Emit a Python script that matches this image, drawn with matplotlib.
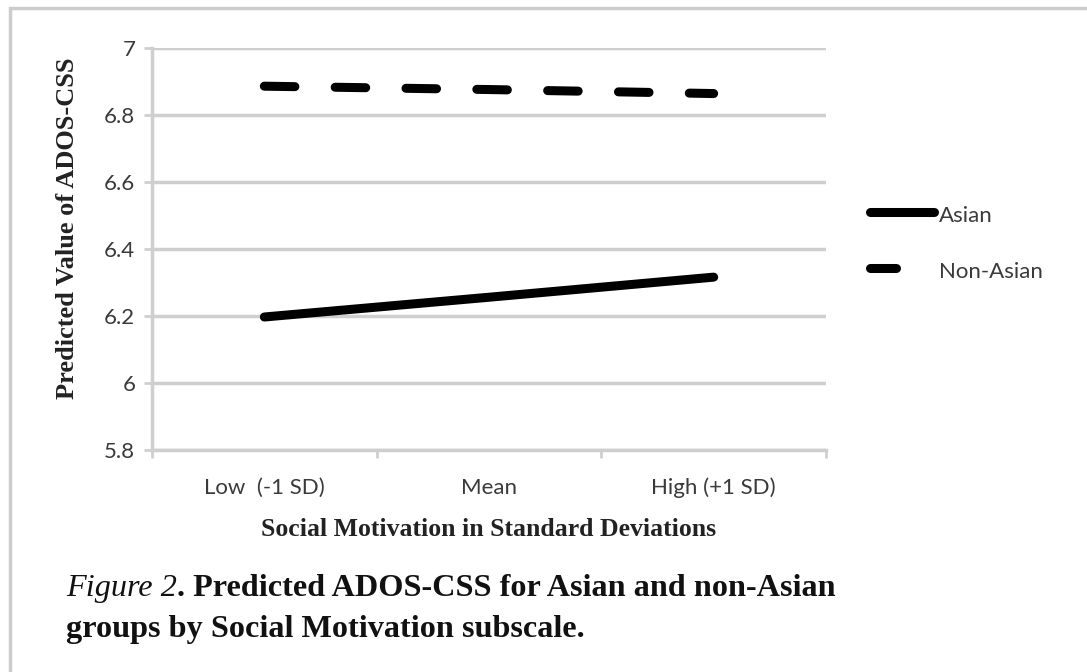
import matplotlib
matplotlib.use("Agg")
import matplotlib.pyplot as plt
from matplotlib.lines import Line2D
from matplotlib.patches import Rectangle

# data
categories = ["Low  (-1 SD)", "Mean", "High (+1 SD)"]
asian = [6.197, 6.256, 6.316]
non_asian = [6.886, 6.876, 6.864]
y_ticks = [5.8, 6.0, 6.2, 6.4, 6.6, 6.8, 7.0]
y_tick_labels = ["5.8", "6", "6.2", "6.4", "6.6", "6.8", "7"]
series_names = ["Asian", "Non-Asian"]

plt.rcParams['lines.scale_dashes'] = False
SANS = "Lato"
SERIF = "Liberation Serif"
GRID = "#cfcfcf"
TXT = "#3a3a3a"

fig = plt.figure(figsize=(10.87, 6.72), dpi=100)
# light gray frame around the figure area (left + top visible)
fig.patches.append(Rectangle((10 / 1087, -0.05), 1.2, 1 - 8 / 672 + 0.05,
                             transform=fig.transFigure, fill=False,
                             edgecolor="#cccccc", lw=2.5))

ax = fig.add_axes([152 / 1087, 1 - 450 / 672, (826 - 152) / 1087, (450 - 48) / 672])

x = range(len(categories))
ax.plot(x, asian, color="black", lw=6.5, solid_capstyle="round")
ax.plot(x, non_asian, color="black", lw=6.5, dash_capstyle="round",
        dashes=(22, 29))

ax.set_xlim(-0.5, 2.5)
ax.set_ylim(5.8, 7.0)
ax.set_yticks(y_ticks)
ax.set_yticklabels(y_tick_labels)
ax.set_xticks([-0.5, 0.5, 1.5, 2.5])
ax.set_xticklabels([])
ax.set_xticks(list(x), minor=True)
ax.set_xticklabels(categories, minor=True)
ax.tick_params(axis="x", which="minor", length=0, pad=20)
ax.tick_params(axis="x", which="major", length=6, width=2, color=GRID)
ax.tick_params(axis="y", length=6, width=2, color=GRID, pad=6)
for lab in ax.get_xticklabels(minor=True) + ax.get_yticklabels():
    lab.set_fontfamily(SANS)
    lab.set_fontsize(16)
    lab.set_color(TXT)

ax.yaxis.grid(True, color=GRID, lw=2.5)
ax.set_axisbelow(True)
for s in ["top", "right"]:
    ax.spines[s].set_visible(False)
for s in ["left", "bottom"]:
    ax.spines[s].set_color(GRID)
    ax.spines[s].set_linewidth(2.5)

ax.set_xlabel("Social Motivation in Standard Deviations", fontfamily=SERIF,
              fontweight="bold", fontsize=18.5, color="#222222", labelpad=14)
ax.set_ylabel("Predicted Value of ADOS-CSS", fontfamily=SERIF,
              fontweight="bold", fontsize=19, color="#222222")
ax.yaxis.set_label_coords(-0.108, 0.552)

# legend drawn by hand to keep the different sample lengths
fig.add_artist(Line2D([870 / 1087, 934 / 1087], [1 - 212 / 672] * 2,
                      transform=fig.transFigure, color="black", lw=6.5,
                      solid_capstyle="round"))
fig.add_artist(Line2D([870 / 1087, 896 / 1087], [1 - 268 / 672] * 2,
                      transform=fig.transFigure, color="black", lw=6.5,
                      solid_capstyle="round"))
fig.text(939 / 1087, 1 - 216 / 672, series_names[0], fontfamily=SANS,
         fontsize=16, color=TXT, va="center")
fig.text(939 / 1087, 1 - 272 / 672, series_names[1], fontfamily=SANS,
         fontsize=16, color=TXT, va="center")

# caption
t1 = fig.text(66 / 1087, 1 - 596 / 672, "Figure 2", fontfamily=SERIF,
              fontstyle="italic", fontsize=23.2, color="#111111")
ax.annotate(". Predicted ADOS-CSS for Asian and non-Asian", xy=(1, 0),
            xycoords=t1, va="bottom", ha="left", fontfamily=SERIF,
            fontweight="bold", fontsize=23.2, color="#111111",
            annotation_clip=False)
fig.text(66 / 1087, 1 - 637 / 672, "groups by Social Motivation subscale.",
         fontfamily=SERIF, fontweight="bold", fontsize=23.2, color="#111111")

fig.savefig("out.png", dpi=100)
